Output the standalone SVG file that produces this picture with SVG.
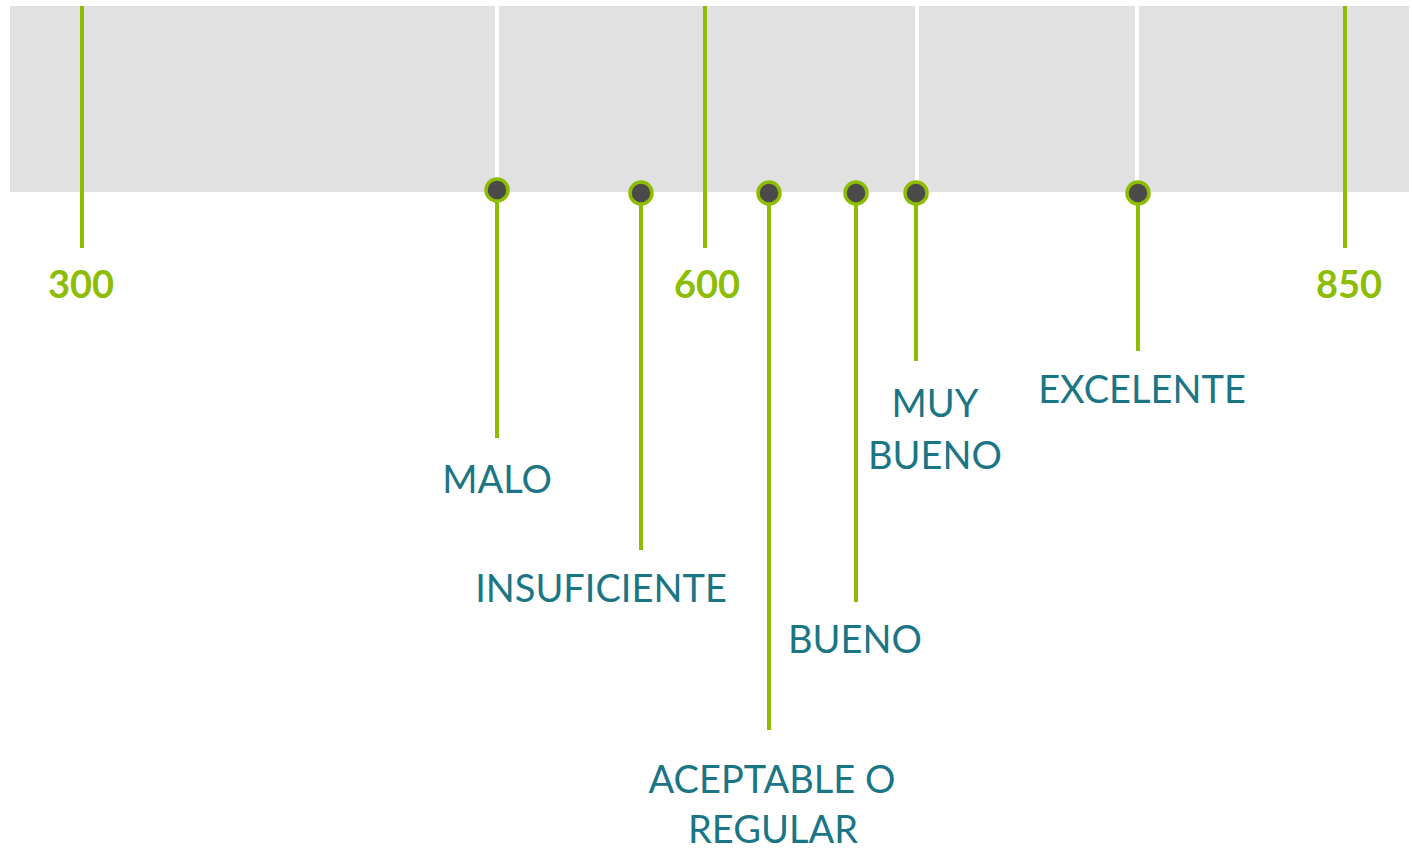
<svg xmlns="http://www.w3.org/2000/svg" width="1412" height="850" viewBox="0 0 1412 850">
<style>
.band{fill:#e1e1e1}
.sep{stroke:#ffffff;stroke-width:4}
.g{stroke:#8cbd00;stroke-width:4;fill:none}
.dot{fill:#4a4a4a;stroke:#8cbd00;stroke-width:3.5}
.num{font-family:Lato,"Liberation Sans",sans-serif;font-weight:bold;font-size:38px;fill:#8cbd00;text-anchor:middle}
.lbl{font-family:Lato,"Liberation Sans",sans-serif;font-size:38px;fill:#1a7584;text-anchor:middle}
</style>
<rect class="band" x="10" y="6" width="1399" height="186"/>
<g id="separators">
<line class="sep" x1="497" y1="6" x2="497" y2="192"/>
<line class="sep" x1="917" y1="6" x2="917" y2="192"/>
<line class="sep" x1="1137" y1="6" x2="1137" y2="192"/>
</g>
<g id="connectors">
<line class="g" x1="82" y1="6" x2="82" y2="248"/>
<line class="g" x1="705" y1="6" x2="705" y2="248"/>
<line class="g" x1="1345" y1="6" x2="1345" y2="248"/>
<line class="g" x1="497" y1="190" x2="497" y2="438"/>
<line class="g" x1="641" y1="193" x2="641" y2="550"/>
<line class="g" x1="769" y1="193" x2="769" y2="730"/>
<line class="g" x1="856" y1="193" x2="856" y2="602"/>
<line class="g" x1="916" y1="193" x2="916" y2="361"/>
<line class="g" x1="1138" y1="193" x2="1138" y2="351"/>
</g>
<g id="tick-300"><text class="num" x="81" y="298">300</text></g>
<g id="tick-600"><text class="num" x="707" y="298">600</text></g>
<g id="tick-850"><text class="num" x="1349" y="298">850</text></g>
<g id="malo"><circle class="dot" cx="497" cy="190" r="11"/><text class="lbl" x="497" y="493">MALO</text></g>
<g id="insuficiente"><circle class="dot" cx="641" cy="193" r="11"/><text class="lbl" x="601" y="602">INSUFICIENTE</text></g>
<g id="aceptable"><circle class="dot" cx="769" cy="193" r="11"/><text class="lbl" x="772" y="793">ACEPTABLE O</text><text class="lbl" x="773" y="843">REGULAR</text></g>
<g id="bueno"><circle class="dot" cx="856" cy="193" r="11"/><text class="lbl" x="855" y="653">BUENO</text></g>
<g id="muy-bueno"><circle class="dot" cx="916" cy="193" r="11"/><text class="lbl" x="935" y="417">MUY</text><text class="lbl" x="935" y="469">BUENO</text></g>
<g id="excelente"><circle class="dot" cx="1138" cy="193" r="11"/><text class="lbl" x="1142" y="403">EXCELENTE</text></g>
</svg>
